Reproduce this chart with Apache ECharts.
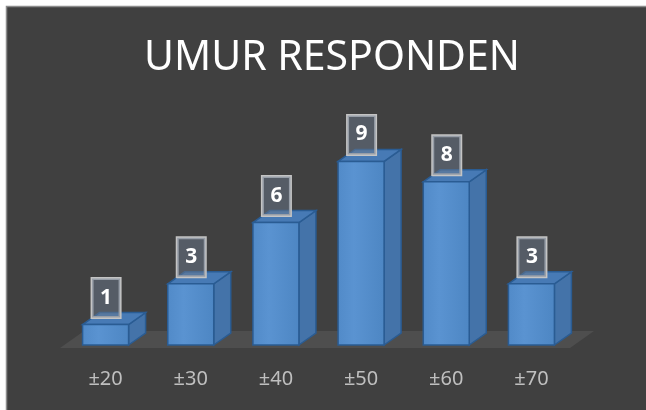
<!DOCTYPE html>
<html>
<head>
<meta charset="utf-8">
<script src="https://cdn.jsdelivr.net/npm/echarts@6/dist/echarts.min.js"></script>
<style>
html,body{margin:0;padding:0;background:#ffffff;}
#chart{width:646px;height:410px;}
</style>
</head>
<body>
<div id="chart"></div>
<script>
var categories = ['±20', '±30', '±40', '±50', '±60', '±70'];
var values = [1, 3, 6, 9, 8, 3];
var titleText = 'UMUR RESPONDEN';

var barData = categories.map(function (c, i) { return [i, values[i]]; });

function renderFloor(params, api) {
  var band = api.size([1, 0])[0];
  var c0 = api.coord([0, 0]);
  var L = c0[0] - band / 2, R = L + band * categories.length, y = c0[1];
  return {
    type: 'polygon',
    shape: { points: [[L - 3, y + 3], [R - 4, y + 3], [R + 20, y - 14], [L + 21, y - 14]] },
    style: { fill: '#4e4e4e' }
  };
}

function renderBar(params, api) {
  var idx = api.value(0), v = api.value(1);
  var top = api.coord([idx, v]);
  var base = api.coord([idx, 0]);
  var band = api.size([1, 0])[0];
  var w = band * 0.54, dx = 17, dy = 12;
  var cx = top[0];
  var x0 = cx - w / 2, x1 = cx + w / 2, yT = top[1], yB = base[1];
  var stroke = '#2a5c93';
  return {
    type: 'group',
    children: [
      {
        type: 'polygon',
        shape: { points: [[x1, yB], [x1 + dx, yB - dy], [x1 + dx, yT - dy], [x1, yT]] },
        style: { fill: '#4473a9', stroke: stroke, lineWidth: 1.5 }
      },
      {
        type: 'polygon',
        shape: { points: [[x0, yT], [x0 + dx, yT - dy], [x1 + dx, yT - dy], [x1, yT]] },
        style: { fill: '#477ab5', stroke: stroke, lineWidth: 1.5 }
      },
      {
        type: 'rect',
        shape: { x: x0, y: yT, width: w, height: yB - yT },
        style: {
          fill: new echarts.graphic.LinearGradient(0, 0, 1, 0, [
            { offset: 0, color: '#518ac8' },
            { offset: 0.35, color: '#5a93d1' },
            { offset: 1, color: '#4d86c3' }
          ]),
          stroke: stroke, lineWidth: 1.5
        }
      },
      {
        type: 'text',
        x: cx + 0.5,
        y: yT - 7,
        style: {
          text: String(v),
          font: 'bold 21px "Noto Sans"',
          fill: '#ffffff',
          align: 'center',
          verticalAlign: 'bottom',
          backgroundColor: 'rgba(105,120,140,0.5)',
          borderColor: '#c4c4c4',
          borderWidth: 1.5,
          padding: [7, 8, 8, 8],
          lineHeight: 24
        }
      }
    ]
  };
}

var chart = echarts.init(document.getElementById('chart'), null, { renderer: 'canvas' });
chart.setOption({
  backgroundColor: 'transparent',
  animation: false,
  graphic: [
    {
      type: 'rect', z: -10,
      shape: { x: 6.5, y: 6.5, width: 700, height: 500 },
      style: { fill: '#404040', stroke: '#8c8c8c', lineWidth: 1.5 }
    }
  ],
  title: {
    text: titleText,
    left: 139,
    top: 33,
    textStyle: { color: '#ffffff', fontSize: 41, fontWeight: 'normal', fontFamily: 'Noto Sans' }
  },
  grid: { left: 63, right: 72, top: 141, bottom: 65 },
  xAxis: {
    type: 'category',
    data: categories,
    axisLine: { show: false },
    axisTick: { show: false },
    axisLabel: { color: '#bfbfbf', fontSize: 20, fontFamily: 'Noto Sans', margin: 24 }
  },
  yAxis: { type: 'value', min: 0, max: 10, show: false, splitLine: { show: false } },
  series: [
    { type: 'custom', renderItem: renderFloor, data: [[0, 0]], encode: { x: 0, y: 1 }, silent: true, z: 1 },
    { type: 'custom', renderItem: renderBar, data: barData, encode: { x: 0, y: 1 }, z: 2 }
  ]
});
</script>
</body>
</html>
